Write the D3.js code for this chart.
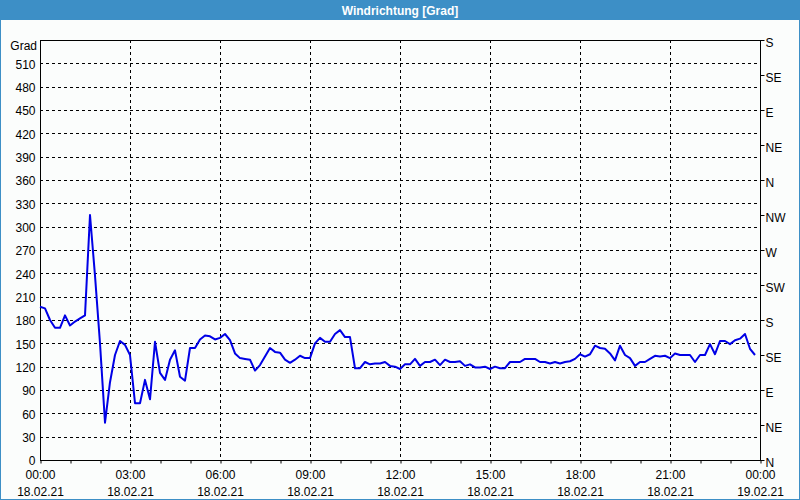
<!DOCTYPE html>
<html><head><meta charset="utf-8">
<script src="https://cdn.jsdelivr.net/npm/d3@7"></script>
<style>
html,body{margin:0;padding:0;background:#fbfdfc;}
svg{display:block;}
text{font-family:"Liberation Sans",Arial,sans-serif;}
</style></head>
<body>
<svg id="c" width="800" height="500"></svg>
<script>
const title = "Windrichtung [Grad]";
const unitLabel = "Grad";
const startTime = "2021-02-18T00:00:00";
const stepMinutes = 10;
const windDirection = [
197,195,180,170,170,186,173,178,182,186,
315,237,150,48,100,135,153,148,135,73,
73,103,78,152,112,103,129,141,107,102,
144,144,155,160,159,155,157,162,154,137,
131,130,129,115,122,133,144,139,138,129,
125,129,134,131,131,150,157,152,152,162,
167,158,158,118,118,126,123,124,124,126,
121,120,117,123,123,130,121,126,126,129,
122,129,126,126,127,121,123,119,119,120,
117,120,118,118,126,126,126,130,130,130,
126,126,124,126,124,126,127,130,136,133,
136,147,144,143,137,128,147,135,131,121,
126,126,130,134,133,134,131,137,135,135,
135,126,135,135,149,136,153,153,149,154,
156,162,143,135];
const yTicks = [0,30,60,90,120,150,180,210,240,270,300,330,360,390,420,450,480,510];
const compassTicks = [0,45,90,135,180,225,270,315,360,405,450,495,540];
const compassLabels = ["N","NE","E","SE","S","SW","W","NW","N","NE","E","SE","S"];
const yMax = 540;

const svg = d3.select("#c");
const W = 800, H = 500;
const L = 40, R = 760, T = 40, B = 460;

// frame
svg.append("rect").attr("x",0).attr("y",0).attr("width",W).attr("height",H).attr("fill","#fbfdfc");
svg.append("rect").attr("x",0.5).attr("y",0.5).attr("width",W-1).attr("height",H-1)
  .attr("fill","none").attr("stroke","#3d8fc6").attr("stroke-width",1);
svg.append("rect").attr("x",0).attr("y",0).attr("width",W).attr("height",20).attr("fill","#3d8fc6");
svg.append("text").attr("x",W/2).attr("y",14.5).attr("text-anchor","middle")
  .attr("fill","#ffffff").attr("font-weight","bold").attr("font-size","12px").text(title);

const t0 = new Date(startTime);
const t1 = d3.timeDay.offset(t0,1);
const x = d3.scaleTime().domain([t0,t1]).range([L,R]);
const y = d3.scaleLinear().domain([0,yMax]).range([B,T]);

const data = windDirection.map((v,i)=>({t:d3.timeMinute.offset(t0,i*stepMinutes), v}));

// grid
const g = svg.append("g");
g.selectAll("line.h").data(yTicks.filter(d=>d>0)).join("line")
  .attr("x1",L).attr("x2",R).attr("y1",d=>Math.round(y(d))+0.5).attr("y2",d=>Math.round(y(d))+0.5)
  .attr("stroke","#000").attr("stroke-dasharray","3,3").attr("stroke-width",1);
const vTimes = d3.timeHour.every(3).range(d3.timeHour.offset(t0,3), t1);
g.selectAll("line.v").data(vTimes).join("line")
  .attr("x1",d=>Math.round(x(d))+0.5).attr("x2",d=>Math.round(x(d))+0.5).attr("y1",T).attr("y2",B)
  .attr("stroke","#000").attr("stroke-dasharray","3,3").attr("stroke-width",1);

// left axis
const yAxis = d3.axisLeft(y).tickValues(yTicks).tickSize(0).tickPadding(5);
const ya = svg.append("g").attr("transform",`translate(${L+0.5},0)`).call(yAxis);
ya.select(".domain").remove();
ya.selectAll("text").attr("font-size","12px").attr("fill","#000")
  .attr("font-family","'Liberation Sans',Arial,sans-serif").attr("dy","0.4em");
svg.append("text").attr("x",37).attr("y",50).attr("text-anchor","end").attr("font-size","12px").text(unitLabel);

// right axis
const yAxisR = d3.axisRight(y).tickValues(compassTicks).tickSize(4).tickPadding(1)
  .tickFormat((d,i)=>compassLabels[i]);
const yr = svg.append("g").attr("transform",`translate(${R+0.5},0)`).call(yAxisR);
yr.select(".domain").remove();
yr.selectAll("text").attr("font-size","12px").attr("fill","#000")
  .attr("font-family","'Liberation Sans',Arial,sans-serif").attr("dy","0.5em");

// bottom axis
const fmtT = d3.timeFormat("%H:%M"), fmtD = d3.timeFormat("%d.%m.%y");
const xAxis = d3.axisBottom(x).ticks(d3.timeHour.every(1)).tickSize(3).tickFormat("");
const xa = svg.append("g").attr("transform",`translate(0.5,${B+0.5})`).call(xAxis);
xa.select(".domain").remove();
const labTimes = d3.timeHour.every(3).range(t0, d3.timeMinute.offset(t1,1));
const xl = svg.append("g");
labTimes.forEach(d=>{
  xl.append("text").attr("x",x(d)+0.5).attr("y",479).attr("text-anchor","middle").attr("font-size","12px").text(fmtT(d));
  xl.append("text").attr("x",x(d)+0.5).attr("y",496).attr("text-anchor","middle").attr("font-size","12px").text(fmtD(d));
});

// plot border
svg.append("rect").attr("x",L+0.5).attr("y",T+0.5).attr("width",R-L).attr("height",B-T)
  .attr("fill","none").attr("stroke","#000").attr("stroke-width",1);

// line
const line = d3.line().x(d=>x(d.t)).y(d=>y(d.v));
svg.append("path").datum(data).attr("d",line).attr("fill","none")
  .attr("stroke","#0000e6").attr("stroke-width",2).attr("stroke-linejoin","round");
</script>
</body></html>
